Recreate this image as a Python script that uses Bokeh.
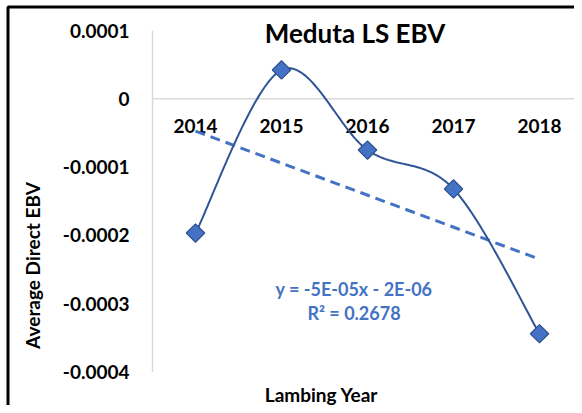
import numpy as np
from bokeh.plotting import figure
from bokeh.models import Range1d, Label, BoxAnnotation
from bokeh.embed import file_html
from bokeh.resources import INLINE
from bokeh.core.properties import value

# ---- data ----
years = ["2014", "2015", "2016", "2017", "2018"]
avg_direct_ebv = [-0.0001965, 0.0000422, -0.000075, -0.000132, -0.000344]
y_tick_values = [-0.0004, -0.0003, -0.0002, -0.0001, 0.0, 0.0001]
y_tick_labels = ["-0.0004", "-0.0003", "-0.0002", "-0.0001", "0", "0.0001"]
chart_title = "Meduta LS EBV"
x_title = "Lambing Year"
y_title = "Average Direct EBV"
trend_equation = "y = -5E-05x - 2E-06"
trend_r2 = "R\u00b2 = 0.2678"

# ---- layout / style constants ----
W, H = 574, 405
FONT = "Lato"
LINE_COLOR = "#2F5597"
MARK_FILL = "#4472C4"
MARK_LINE = "#2F528F"
TREND_COLOR = "#4472C4"
AXIS_GRAY = "#D9D9D9"
X_PIX_FIRST = 195.0   # pixel of first category centre
X_STEP = 86.0         # pixels per category
Y_PIX_TOP = 30.0      # pixel of the highest tick
Y_PPU = 68.3 / 0.0001 # pixels per data unit
BORDER_LEFT_PX = 7.5
BORDER_TOP_PX = 6.5

x = np.arange(1, len(years) + 1, dtype=float)
y = np.array(avg_direct_ebv)

# smoothed line (Catmull-Rom style Bezier segments, like Excel's smoothing)
px = np.concatenate([[x[0]], x, [x[-1]]])
py = np.concatenate([[y[0]], y, [y[-1]]])
t = np.linspace(0, 1, 50)
sx, sy = [], []
for i in range(len(x) - 1):
    p0 = np.array([x[i], y[i]])
    p3 = np.array([x[i + 1], y[i + 1]])
    prev = np.array([px[i], py[i]])
    nxt = np.array([px[i + 3], py[i + 3]])
    c1 = p0 + (p3 - prev) / 6.0
    c2 = p3 - (nxt - p0) / 6.0
    b = (np.outer((1 - t) ** 3, p0) + np.outer(3 * (1 - t) ** 2 * t, c1)
         + np.outer(3 * (1 - t) * t ** 2, c2) + np.outer(t ** 3, p3))
    sx.extend(b[:, 0])
    sy.extend(b[:, 1])

# linear trend
coef = np.polyfit(x, y, 1)
tx = np.array([x[0], x[-1]])
ty = np.polyval(coef, tx)

y_max = max(y_tick_values)
y_min = min(y_tick_values)
x_start = 1 - X_PIX_FIRST / X_STEP
x_end = 1 + (W - X_PIX_FIRST) / X_STEP
y_end = y_max + Y_PIX_TOP / Y_PPU
y_start = y_max - (H - Y_PIX_TOP) / Y_PPU
axis_x = x[0] - 0.5

p = figure(width=W, height=H,
           x_range=Range1d(x_start, x_end), y_range=Range1d(y_start, y_end),
           x_axis_type=None, y_axis_type=None,
           output_backend="svg", toolbar_location=None, title=None,
           min_border=0, min_border_left=0, min_border_right=0,
           min_border_top=0, min_border_bottom=0)
p.outline_line_color = None
p.background_fill_color = "white"
p.border_fill_color = "white"

# chart border (only top and left edges fall inside the picture)
p.add_layout(BoxAnnotation(left=x_start + BORDER_LEFT_PX / X_STEP,
                           right=x_end + 1.0,
                           top=y_end - BORDER_TOP_PX / Y_PPU,
                           bottom=y_start - 0.001,
                           fill_color=None, fill_alpha=0,
                           line_color="#000000", line_alpha=1.0, line_width=3))

# value axis line
p.segment(x0=[axis_x], y0=[y_min], x1=[axis_x], y1=[y_max],
          line_color=AXIS_GRAY, line_width=1.5)
# category axis line at zero
p.segment(x0=[axis_x], y0=[0.0], x1=[x[-1] + 0.5], y1=[0.0],
          line_color=AXIS_GRAY, line_width=1.5)

# value tick labels
p.text(x=[axis_x] * len(y_tick_values), y=y_tick_values, text=y_tick_labels,
       x_offset=-23, text_align="right", text_baseline="middle",
       text_font=value(FONT), text_font_style="bold",
       text_font_size="19px", text_color="#000000")

# category labels just below zero line
p.text(x=x, y=[0.0] * len(x), text=years, y_offset=27,
       text_align="center", text_baseline="middle",
       text_font=value(FONT), text_font_style="bold",
       text_font_size="19px", text_color="#000000")

# trend line
p.line(tx, ty, line_color=TREND_COLOR, line_width=3, line_dash="10 6")

# smooth series line + markers
p.line(sx, sy, line_color=LINE_COLOR, line_width=2)
p.scatter(x, y, marker="square", angle=np.pi / 4, size=13,
          fill_color=MARK_FILL, line_color=MARK_LINE, line_width=1.2)

def lab(txt, lx, ly_from_top, size, color="#000000", angle=0.0):
    p.add_layout(Label(x=lx, y=H - ly_from_top, x_units="screen", y_units="screen",
                       text=txt, text_align="center", text_baseline="middle",
                       text_font=FONT, text_font_style="bold",
                       text_font_size=size, text_color=color, angle=angle))

lab(chart_title, 354.5, 32, "26px")
lab(x_title, 321, 394, "19px")
lab(y_title, 31.5, 265, "19px", angle=np.pi / 2)
lab(trend_equation, 353.5, 288, "18px", color=TREND_COLOR)
lab(trend_r2, 353.5, 312.5, "18px", color=TREND_COLOR)

open("out.html", "w").write(file_html(p, INLINE))
